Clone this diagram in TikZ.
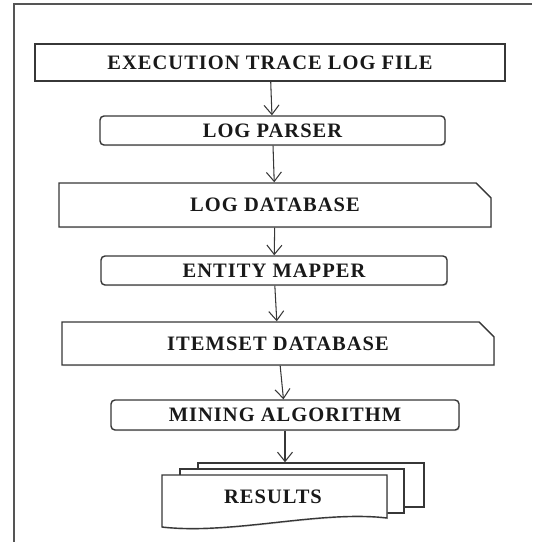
\documentclass[tikz,border=0pt]{standalone}
\usepackage{fontspec}
\usepackage{tikz}
\usetikzlibrary{arrows.meta, positioning, shapes.misc, shadows}
\newfontfamily\boxfont[LetterSpace=5]{Liberation Serif}
\definecolor{linegray}{RGB}{55, 55, 55}
\definecolor{framegray}{RGB}{85, 85, 85}

\begin{document}
\begin{tikzpicture}[
    x=0.03cm, y=-0.03cm,
    boxtext/.style={font=\boxfont\bfseries\fontsize{17.5}{20}\selectfont, text=black!90},
    shade/.style={drop shadow={shadow xshift=0.8pt, shadow yshift=-1pt, fill=black!25}},
    plainbox/.style={rectangle, draw=linegray, line width=1.2pt, fill=white, shade, boxtext, inner sep=0pt},
    roundbox/.style={plainbox, rounded corners=1.2mm},
    snipbox/.style={plainbox, chamfered rectangle, chamfered rectangle corners=north east,
        chamfered rectangle xsep=0.24cm, chamfered rectangle ysep=0.24cm},
    page/.style={rectangle, draw=linegray, line width=1.2pt, fill=white, shade, inner sep=0pt},
    flow/.style={draw=linegray, line width=0.9pt, -{Straight Barb[length=2.8mm, width=4.5mm]}},
    frame/.style={draw=framegray, line width=2pt}
]
\useasboundingbox (0,0) rectangle (532,542);

% outer frame
\draw[frame] (14,542) -- (14,4) -- (532,4);

% processing steps
\node[plainbox, minimum width=14.1cm, minimum height=1.11cm] (exec) at (270,62.5) {EXECUTION TRACE LOG FILE};
\node[roundbox, minimum width=10.35cm, minimum height=0.87cm] (parser) at (272.5,130.5) {LOG PARSER};
\node[snipbox, minimum width=12.96cm, minimum height=1.32cm] (logdb) at (275,205) {LOG DATABASE};
\node[roundbox, minimum width=10.38cm, minimum height=0.87cm] (mapper) at (274,270.5) {ENTITY MAPPER};
\node[snipbox, minimum width=12.96cm, minimum height=1.29cm] (itemdb) at (278,343.5) {ITEMSET DATABASE};
\node[roundbox, minimum width=10.44cm, minimum height=0.9cm] (algo) at (285,415) {MINING ALGORITHM};

% result pages, back to front
\node[page, minimum width=6.78cm, minimum height=1.32cm] (res3) at (311,485) {};
\node[page, minimum width=6.72cm, minimum height=1.32cm] (res2) at (292,491) {};
\draw[draw=linegray, line width=1.2pt, fill=white, shade]
    (162,475) -- (387,475) -- (387,518)
    .. controls (320,510) and (232,535) .. (162,527) -- cycle;
\node[boxtext] (res) at (273,497) {RESULTS};

% connectors
\draw[flow] (exec) -- (parser);
\draw[flow] (parser) -- (logdb);
\draw[flow] (logdb) -- (mapper);
\draw[flow] (mapper) -- (itemdb);
\draw[flow] (itemdb) -- (algo);
\draw[flow] (algo.south) -- (algo.south |- res3.north);

\end{tikzpicture}
\end{document}
